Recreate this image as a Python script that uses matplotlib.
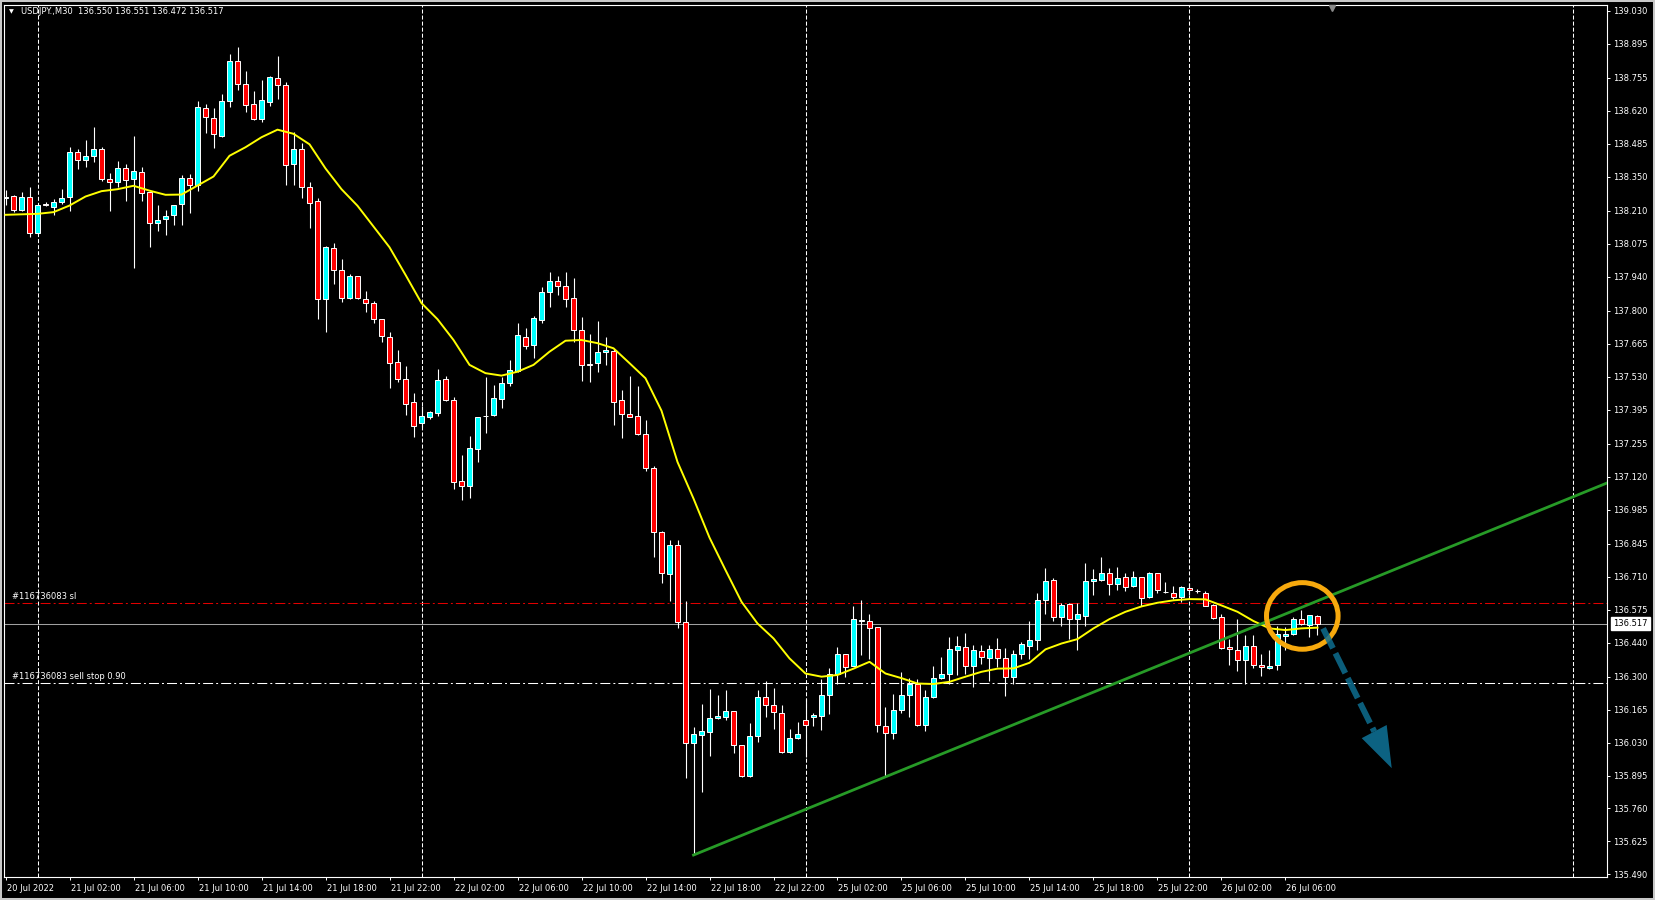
import numpy as np
import matplotlib.pyplot as plt
from matplotlib.patches import Ellipse, Polygon, Rectangle
from matplotlib.transforms import blended_transform_factory, ScaledTranslation

plt.rcParams['font.family'] = ['DejaVu Sans']
plt.rcParams['lines.scale_dashes'] = False

# USDJPY M30, bar index 0 = 21 Jul 2022 00:00 (weekend gap removed)
first_bar = -4
opens = [
    138.262, 138.271, 138.213, 138.265, 138.120, 138.236, 138.223, 138.245, 138.264, 138.450,
    138.417, 138.433, 138.463, 138.339, 138.327, 138.384, 138.339, 138.367, 138.286, 138.158,
    138.175, 138.191, 138.236, 138.343, 138.317, 138.630, 138.589, 138.518, 138.659, 138.823,
    138.728, 138.646, 138.585, 138.655, 138.753, 138.724, 138.400, 138.462, 138.306, 138.249,
    137.847, 138.056, 137.966, 137.851, 137.943, 137.848, 137.832, 137.766, 137.693, 137.589,
    137.520, 137.425, 137.341, 137.366, 137.382, 137.520, 137.433, 137.101, 137.083, 137.232,
    137.369, 137.373, 137.437, 137.503, 137.552, 137.694, 137.658, 137.762, 137.876, 137.921,
    137.900, 137.851, 137.720, 137.580, 137.585, 137.630, 137.636, 137.432, 137.376, 137.367,
    137.293, 137.154, 136.894, 136.720, 136.840, 136.523, 136.027, 136.063, 136.074, 136.129,
    136.136, 136.158, 136.018, 135.894, 136.055, 136.216, 136.182, 136.152, 135.990, 136.047,
    136.121, 136.133, 136.140, 136.223, 136.309, 136.391, 136.344, 136.529, 136.527, 136.502,
    136.098, 136.068, 136.162, 136.223, 136.272, 136.104, 136.215, 136.293, 136.313, 136.408,
    136.420, 136.342, 136.404, 136.378, 136.413, 136.375, 136.300, 136.395, 136.427, 136.449,
    136.613, 136.696, 136.543, 136.596, 136.538, 136.550, 136.691, 136.695, 136.727, 136.681,
    136.707, 136.670, 136.707, 136.625, 136.723, 136.648, 136.641, 136.625, 136.662, 136.652,
    136.645, 136.592, 136.543, 136.420, 136.408, 136.367, 136.424, 136.346, 136.334, 136.346,
    136.467, 136.477, 136.535, 136.510, 136.550,
]
highs = [
    138.295, 138.273, 138.286, 138.307, 138.234, 138.245, 138.257, 138.299, 138.471, 138.463,
    138.500, 138.553, 138.470, 138.363, 138.414, 138.402, 138.516, 138.389, 138.286, 138.234,
    138.213, 138.234, 138.355, 138.359, 138.660, 138.648, 138.630, 138.687, 138.853, 138.881,
    138.782, 138.700, 138.746, 138.760, 138.844, 138.737, 138.532, 138.486, 138.327, 138.261,
    138.066, 138.076, 138.012, 137.951, 137.944, 137.881, 137.840, 137.768, 137.713, 137.639,
    137.574, 137.463, 137.410, 137.389, 137.561, 137.533, 137.447, 137.209, 137.287, 137.366,
    137.530, 137.496, 137.530, 137.598, 137.749, 137.729, 137.777, 137.896, 137.959, 137.943,
    137.959, 137.934, 137.774, 137.705, 137.758, 137.691, 137.643, 137.475, 137.533, 137.492,
    137.352, 137.164, 136.898, 136.860, 136.860, 136.610, 136.092, 136.190, 136.248, 136.225,
    136.245, 136.160, 136.022, 136.109, 136.245, 136.282, 136.252, 136.186, 136.084, 136.113,
    136.207, 136.150, 136.290, 136.334, 136.420, 136.395, 136.589, 136.614, 136.557, 136.505,
    136.177, 136.229, 136.319, 136.293, 136.290, 136.245, 136.344, 136.380, 136.461, 136.466,
    136.479, 136.430, 136.430, 136.428, 136.457, 136.416, 136.409, 136.443, 136.528, 136.641,
    136.744, 136.703, 136.600, 136.600, 136.603, 136.764, 136.740, 136.789, 136.744, 136.749,
    136.723, 136.732, 136.707, 136.729, 136.723, 136.689, 136.671, 136.673, 136.682, 136.660,
    136.652, 136.596, 136.557, 136.453, 136.536, 136.472, 136.469, 136.391, 136.409, 136.507,
    136.502, 136.543, 136.573, 136.551, 136.551,
]
lows = [
    138.234, 138.206, 138.210, 138.104, 138.115, 138.231, 138.191, 138.239, 138.209, 138.379,
    138.389, 138.411, 138.333, 138.210, 138.307, 138.251, 137.977, 138.251, 138.063, 138.128,
    138.112, 138.153, 138.153, 138.202, 138.292, 138.527, 138.466, 138.511, 138.634, 138.706,
    138.616, 138.582, 138.573, 138.638, 138.667, 138.314, 138.314, 138.261, 138.138, 137.765,
    137.712, 137.908, 137.837, 137.847, 137.847, 137.796, 137.749, 137.671, 137.482, 137.507,
    137.373, 137.284, 137.325, 137.358, 137.370, 137.430, 137.071, 137.026, 137.034, 137.181,
    137.300, 137.370, 137.403, 137.493, 137.549, 137.642, 137.608, 137.749, 137.814, 137.866,
    137.814, 137.672, 137.513, 137.509, 137.548, 137.579, 137.333, 137.277, 137.363, 137.289,
    137.144, 136.792, 136.683, 136.612, 136.499, 135.884, 135.569, 135.828, 135.976, 136.125,
    136.122, 135.986, 135.887, 135.890, 136.033, 136.136, 136.087, 135.987, 135.988, 136.045,
    135.972, 136.099, 136.083, 136.147, 136.268, 136.297, 136.342, 136.389, 136.371, 136.074,
    135.893, 136.046, 136.150, 136.136, 136.099, 136.078, 136.211, 136.289, 136.270, 136.307,
    136.313, 136.259, 136.354, 136.282, 136.341, 136.222, 136.270, 136.371, 136.371, 136.409,
    136.557, 136.529, 136.509, 136.453, 136.409, 136.507, 136.635, 136.693, 136.635, 136.655,
    136.652, 136.668, 136.591, 136.621, 136.641, 136.645, 136.617, 136.606, 136.635, 136.641,
    136.589, 136.538, 136.412, 136.348, 136.324, 136.272, 136.334, 136.304, 136.330, 136.326,
    136.410, 136.471, 136.512, 136.464, 136.472,
]
closes = [
    138.268, 138.213, 138.265, 138.118, 138.232, 138.235, 138.245, 138.261, 138.450, 138.417,
    138.433, 138.462, 138.338, 138.327, 138.384, 138.335, 138.372, 138.281, 138.158, 138.171,
    138.187, 138.232, 138.343, 138.314, 138.634, 138.593, 138.523, 138.659, 138.823, 138.728,
    138.642, 138.585, 138.663, 138.757, 138.724, 138.396, 138.462, 138.306, 138.241, 137.847,
    138.060, 137.967, 137.851, 137.943, 137.851, 137.831, 137.768, 137.695, 137.585, 137.519,
    137.417, 137.329, 137.369, 137.384, 137.516, 137.432, 137.099, 137.080, 137.236, 137.363,
    137.370, 137.441, 137.503, 137.556, 137.699, 137.656, 137.769, 137.876, 137.921, 137.900,
    137.848, 137.720, 137.576, 137.579, 137.630, 137.639, 137.427, 137.376, 137.366, 137.293,
    137.154, 136.894, 136.724, 136.840, 136.523, 136.027, 136.065, 136.076, 136.129, 136.139,
    136.158, 136.018, 135.894, 136.055, 136.216, 136.182, 136.156, 135.990, 136.047, 136.065,
    136.100, 136.143, 136.223, 136.313, 136.391, 136.341, 136.535, 136.532, 136.498, 136.100,
    136.068, 136.162, 136.223, 136.272, 136.104, 136.215, 136.293, 136.309, 136.412, 136.424,
    136.342, 136.408, 136.379, 136.413, 136.378, 136.300, 136.395, 136.432, 136.450, 136.613,
    136.692, 136.546, 136.592, 136.535, 136.555, 136.691, 136.699, 136.727, 136.678, 136.703,
    136.666, 136.707, 136.621, 136.723, 136.654, 136.647, 136.625, 136.666, 136.654, 136.651,
    136.591, 136.542, 136.419, 136.412, 136.367, 136.424, 136.346, 136.338, 136.342, 136.475,
    136.477, 136.538, 136.514, 136.551, 136.517,
]

# yellow moving average, read every 2 bars
ma_idx = [-4, 0, 2, 4, 6, 8, 10, 12, 14, 16, 18, 20, 22, 24, 26, 28, 30, 32, 34, 36,
          38, 40, 42, 44, 46, 48, 50, 52, 54, 56, 58, 60, 62, 64, 66, 68, 70, 72, 74, 76,
          78, 80, 82, 84, 86, 88, 90, 92, 94, 96, 98, 100, 102, 104, 106, 108, 110, 112, 114, 116,
          118, 120, 122, 124, 126, 128, 130, 132, 134, 136, 138, 140, 142, 144, 146, 148, 150, 152, 154, 156,
          158, 160]
ma_vals = [138.193, 138.197, 138.204, 138.231, 138.268, 138.290, 138.298, 138.312, 138.292, 138.275,
           138.276, 138.313, 138.350, 138.435, 138.470, 138.511, 138.542, 138.525, 138.482, 138.383,
           138.298, 138.230, 138.145, 138.060, 137.947, 137.831, 137.765, 137.680, 137.578, 137.544,
           137.534, 137.550, 137.578, 137.632, 137.677, 137.680, 137.667, 137.646, 137.585, 137.523,
           137.390, 137.180, 137.030, 136.870, 136.737, 136.607, 136.518, 136.457, 136.375, 136.313,
           136.300, 136.307, 136.333, 136.361, 136.313, 136.294, 136.272, 136.270, 136.279, 136.300,
           136.320, 136.333, 136.334, 136.357, 136.412, 136.436, 136.454, 136.498, 136.536, 136.566,
           136.588, 136.603, 136.613, 136.618, 136.617, 136.592, 136.566, 136.528, 136.498, 136.491,
           136.498, 136.501]

# trendline drawn by hand (bar index, price)
trend_idx = [82, 196.2]
trend_val = [135.569, 137.094]

# order levels
sl_level = 136.600
bid_level = 136.517
stop_level = 136.273

# day separators and time axis
day_starts = [0, 48, 96, 144, 192]
xtick_idx = [-4, 4, 12, 20, 28, 36, 44, 52, 60, 68, 76, 84, 92, 100, 108, 116, 124, 132, 140, 148, 156]
xtick_labels = ["20 Jul 2022", "21 Jul 02:00", "21 Jul 06:00", "21 Jul 10:00", "21 Jul 14:00",
                "21 Jul 18:00", "21 Jul 22:00", "22 Jul 02:00", "22 Jul 06:00", "22 Jul 10:00",
                "22 Jul 14:00", "22 Jul 18:00", "22 Jul 22:00", "25 Jul 02:00", "25 Jul 06:00",
                "25 Jul 10:00", "25 Jul 14:00", "25 Jul 18:00", "25 Jul 22:00", "26 Jul 02:00",
                "26 Jul 06:00"]
ytick_vals = [139.030, 138.895, 138.755, 138.620, 138.485, 138.350, 138.210, 138.075, 137.940,
              137.800, 137.665, 137.530, 137.395, 137.255, 137.120, 136.985, 136.845, 136.710,
              136.575, 136.440, 136.300, 136.165, 136.030, 135.895, 135.760, 135.625, 135.490]

o = np.array(opens)
h = np.array(highs)
l = np.array(lows)
c = np.array(closes)
bars = np.arange(first_bar, first_bar + len(o))

fig = plt.figure(figsize=(16.55, 9), dpi=100, facecolor='black')
ax = fig.add_axes([4 / 1655, 23 / 900, 1603 / 1655, 872.5 / 900])
ax.set_facecolor('black')
ax.set_xlim(-4.19, 196.19)
ax.set_ylim(135.479, 139.055)

# period separators
for d in day_starts:
    ax.axvline(d, color='white', lw=0.75, ls=(0, (2.9, 1.45)), zorder=1)

# order lines
ax.axhline(sl_level, color='#e00000', lw=0.75, ls=(0, (7.2, 2.2, 1.4, 2.2)), zorder=1)
ax.axhline(bid_level, color='#a0a0a0', lw=0.75, zorder=1)
ax.axhline(stop_level, color='white', lw=0.75, ls=(0, (7.2, 2.2, 1.4, 2.2)), zorder=1)

tr = blended_transform_factory(ax.transAxes, ax.transData)
ax.text(0.0049, sl_level + 0.009, '#116736083 sl', transform=tr, color='white', fontsize=6, va='bottom')
ax.text(0.0049, stop_level + 0.009, '#116736083 sell stop 0.90', transform=tr, color='white',
        fontsize=6, va='bottom')

# candles
body_col = np.where(c > o, '#00ffff', np.where(c < o, '#ff0000', 'white'))
ax.vlines(bars, l, h, color='white', lw=0.8, zorder=2)
ax.bar(bars, np.abs(c - o), bottom=np.minimum(o, c), width=0.56, color=body_col,
       edgecolor='white', linewidth=0.7, zorder=3)

# moving average
ax.plot(ma_idx, ma_vals, color='#ffff00', lw=1.4, zorder=4)

# trendline
ax.plot(trend_idx, trend_val, color='#279b27', lw=2.0, zorder=5)

# hand-drawn marks: circle and arrow
ax.add_patch(Ellipse((158.1, 136.549), width=8.95, height=0.273, fill=False,
                     ec='#f7a90d', lw=3.6, zorder=6))
ax.plot([160.7, 167.1], [136.498, 136.075], color='#0e6e91', lw=4.3, alpha=0.85,
        ls=(0, (16, 4)), dash_capstyle='butt', zorder=7)
ax.add_patch(Polygon([(169.28, 135.925), (165.53, 136.048), (168.65, 136.102)], closed=True,
                     fc='#0e6e91', ec='none', alpha=0.9, zorder=7))

# axes styling
for s in ax.spines.values():
    s.set_color('white')
    s.set_linewidth(0.8)
ax.yaxis.tick_right()
ax.set_yticks(ytick_vals)
ax.set_yticklabels([f'{v:.3f}' for v in ytick_vals])
ax.tick_params(axis='y', colors='white', length=2, width=0.7, pad=2.4, labelsize=6)
ax.set_xticks(xtick_idx)
ax.set_xticklabels(xtick_labels)
ax.tick_params(axis='x', colors='white', length=2.5, width=0.7, pad=2.5, labelsize=6)
for lbl in ax.get_xticklabels():
    lbl.set_horizontalalignment('left')
    lbl.set_transform(lbl.get_transform() + ScaledTranslation(1 / 100, 0, fig.dpi_scale_trans))

# current price box
ax.text(1.0037, bid_level, f'{bid_level:.3f}', transform=tr, color='black', fontsize=6,
        ha='left', va='center', bbox=dict(boxstyle='square,pad=0.25', fc='white', ec='white'),
        clip_on=False, zorder=10)

# chart shift marker
ax.plot([161.8], [0.996], transform=blended_transform_factory(ax.transData, ax.transAxes),
        marker='v', ms=5, color='#8a8a8a', clip_on=False, zorder=10)

# header
fig.text(9 / 1655, 1 - 12 / 900, '▼', color='white', fontsize=4.5, va='center')
fig.text(21 / 1655, 1 - 12 / 900, 'USDJPY.,M30  136.550 136.551 136.472 136.517',
         color='white', fontsize=6, va='center', ha='left')

fig.patches.append(Rectangle((0, 0), 1, 1, transform=fig.transFigure, fill=False,
                             ec='#c8c8c8', lw=2.9))

fig.savefig('out.png', dpi=100, facecolor='black')
